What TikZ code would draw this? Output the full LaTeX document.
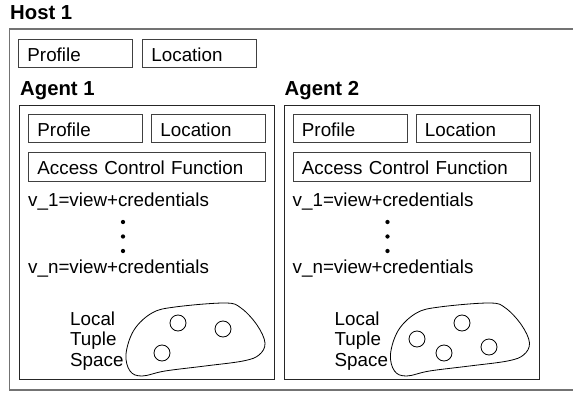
\documentclass[tikz,border=0pt]{standalone}
\usepackage{fontspec}
\setmainfont{Liberation Sans}
\begin{document}
\begin{tikzpicture}[x=1pt,y=-1pt,
  font=\fontsize{18.8}{22}\selectfont,
  box/.style={draw=black!75, line width=0.9pt, anchor=north west, minimum height=28.5pt,
    inner xsep=9pt, inner ysep=0pt, text height=16pt, text depth=0pt, align=left},
  small/.style={box, text width=96pt},
  wide/.style={box, text width=219pt},
  agentbox/.style={draw=black!85, line width=1pt, anchor=north west, inner sep=0pt,
    minimum width=255pt, minimum height=274pt},
  title/.style={anchor=base west, inner sep=0pt, font=\fontsize{20.3}{24}\selectfont\bfseries},
  txt/.style={anchor=base west, inner sep=0pt},
  dot/.style={circle, fill=black, inner sep=0pt, minimum size=4.3pt},
  blob/.style={draw=black, line width=0.8pt},
  tup/.style={circle, draw=black, line width=0.8pt, inner sep=0pt, minimum size=16pt}]
\useasboundingbox (0,0) rectangle (573,393);

% Host
\node[title] (host) at (10,20) {Host 1};
\draw[draw=black!55, line width=1.5pt] (575,29) -| (9.5,390) -- (575,390);
\node[small] (hprof) at (18,39) {Profile};
\node[small] (hloc) at (142,39) {Location};

\foreach \i/\dx in {1/0,2/264.5}{
  \begin{scope}[xshift=\dx pt]
    \node[title] (atitle\i) at (20,95.5) {Agent \i};
    \node[agentbox] (agent\i) at (19,105) {};
    \node[small] (prof\i) at (28,114) {Profile};
    \node[small] (loc\i) at (151,114) {Location};
    \node[wide] (acf\i) at (28,152) {Access Control Function};
    \node[txt] (vone\i) at (28,206) {v\_1=view+credentials};
    \node[dot] (da\i) at (123,222) {};
    \node[dot] (db\i) at (123,236.5) {};
    \node[dot] (dc\i) at (123,251) {};
    \node[txt] (vn\i) at (28,273) {v\_n=view+credentials};
    \node[txt] (loc1\i) at (70,325) {Local};
    \node[txt] (loc2\i) at (70,345.5) {Tuple};
    \node[txt] (loc3\i) at (70,366) {Space};
    \draw[blob] plot[smooth cycle, tension=0.6] coordinates {
      (126,354) (134,330) (152,313) (175,307) (225,303) (241,308) (257,325)
      (265,343) (259,355) (243,361) (205,366) (165,371) (142,376) (130,371)};
  \end{scope}
}

% tuples in agent 1
\node[tup] (t11) at (178,323) {};
\node[tup] (t12) at (223,329) {};
\node[tup] (t13) at (162,353) {};
% tuples in agent 2
\node[tup] (t21) at (417,339) {};
\node[tup] (t22) at (462,323) {};
\node[tup] (t23) at (444,353) {};
\node[tup] (t24) at (489,347) {};
\end{tikzpicture}
\end{document}
